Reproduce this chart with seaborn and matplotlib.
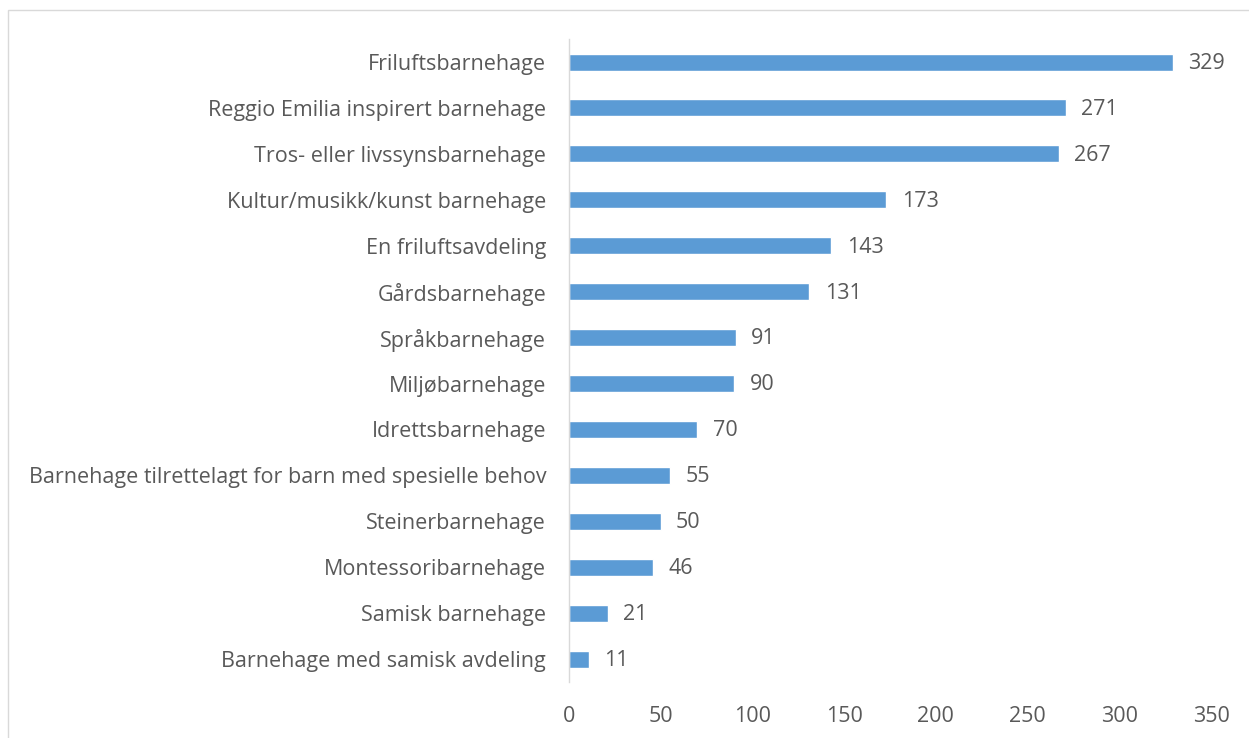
import matplotlib
matplotlib.use("Agg")
import matplotlib.pyplot as plt
import seaborn as sns
import pandas as pd
from matplotlib.patches import Rectangle

categories = [
    "Friluftsbarnehage",
    "Reggio Emilia inspirert barnehage",
    "Tros- eller livssynsbarnehage",
    "Kultur/musikk/kunst barnehage",
    "En friluftsavdeling",
    "Gårdsbarnehage",
    "Språkbarnehage",
    "Miljøbarnehage",
    "Idrettsbarnehage",
    "Barnehage tilrettelagt for barn med spesielle behov",
    "Steinerbarnehage",
    "Montessoribarnehage",
    "Samisk barnehage",
    "Barnehage med samisk avdeling",
]
values = [329, 271, 267, 173, 143, 131, 91, 90, 70, 55, 50, 46, 21, 11]
x_ticks = [0, 50, 100, 150, 200, 250, 300, 350]

sns.set_theme(style="white")
plt.rcParams['font.family'] = ['Open Sans', 'DejaVu Sans']

df = pd.DataFrame({"cat": categories, "val": values})
fig = plt.figure(figsize=(12.49, 7.38), dpi=100)
ax = fig.add_axes([0.4556, 0.0759, 0.5140, 0.8711])
sns.barplot(data=df, x="val", y="cat", color="#5B9BD5", width=0.37,
            saturation=1, ax=ax, orient="h")
ax.set_xlim(0, 350)
ax.set_ylim(len(categories) - 0.5, -0.5)
ax.set_xticks(x_ticks)
ax.set_xlabel("")
ax.set_ylabel("")
txt = "#595959"
ax.tick_params(axis="both", length=0, labelsize=15.5, colors=txt)
ax.tick_params(axis="y", pad=16.5)
ax.tick_params(axis="x", pad=17)
for s in ["top", "right", "bottom"]:
    ax.spines[s].set_visible(False)
ax.spines["left"].set_color("#D9D9D9")
ax.spines["left"].set_linewidth(1)
for i, v in enumerate(values):
    ax.annotate(str(v), (v, i), xytext=(11, -1), textcoords="offset points",
                va="center", ha="left", fontsize=15.5, color=txt)

fig.patches.append(Rectangle((8 / 1249, -0.1), 1.2, 1 - 10 / 738 + 0.1,
                             transform=fig.transFigure, fill=False,
                             edgecolor="#D9D9D9", linewidth=1))
fig.savefig("out.png", dpi=100)
